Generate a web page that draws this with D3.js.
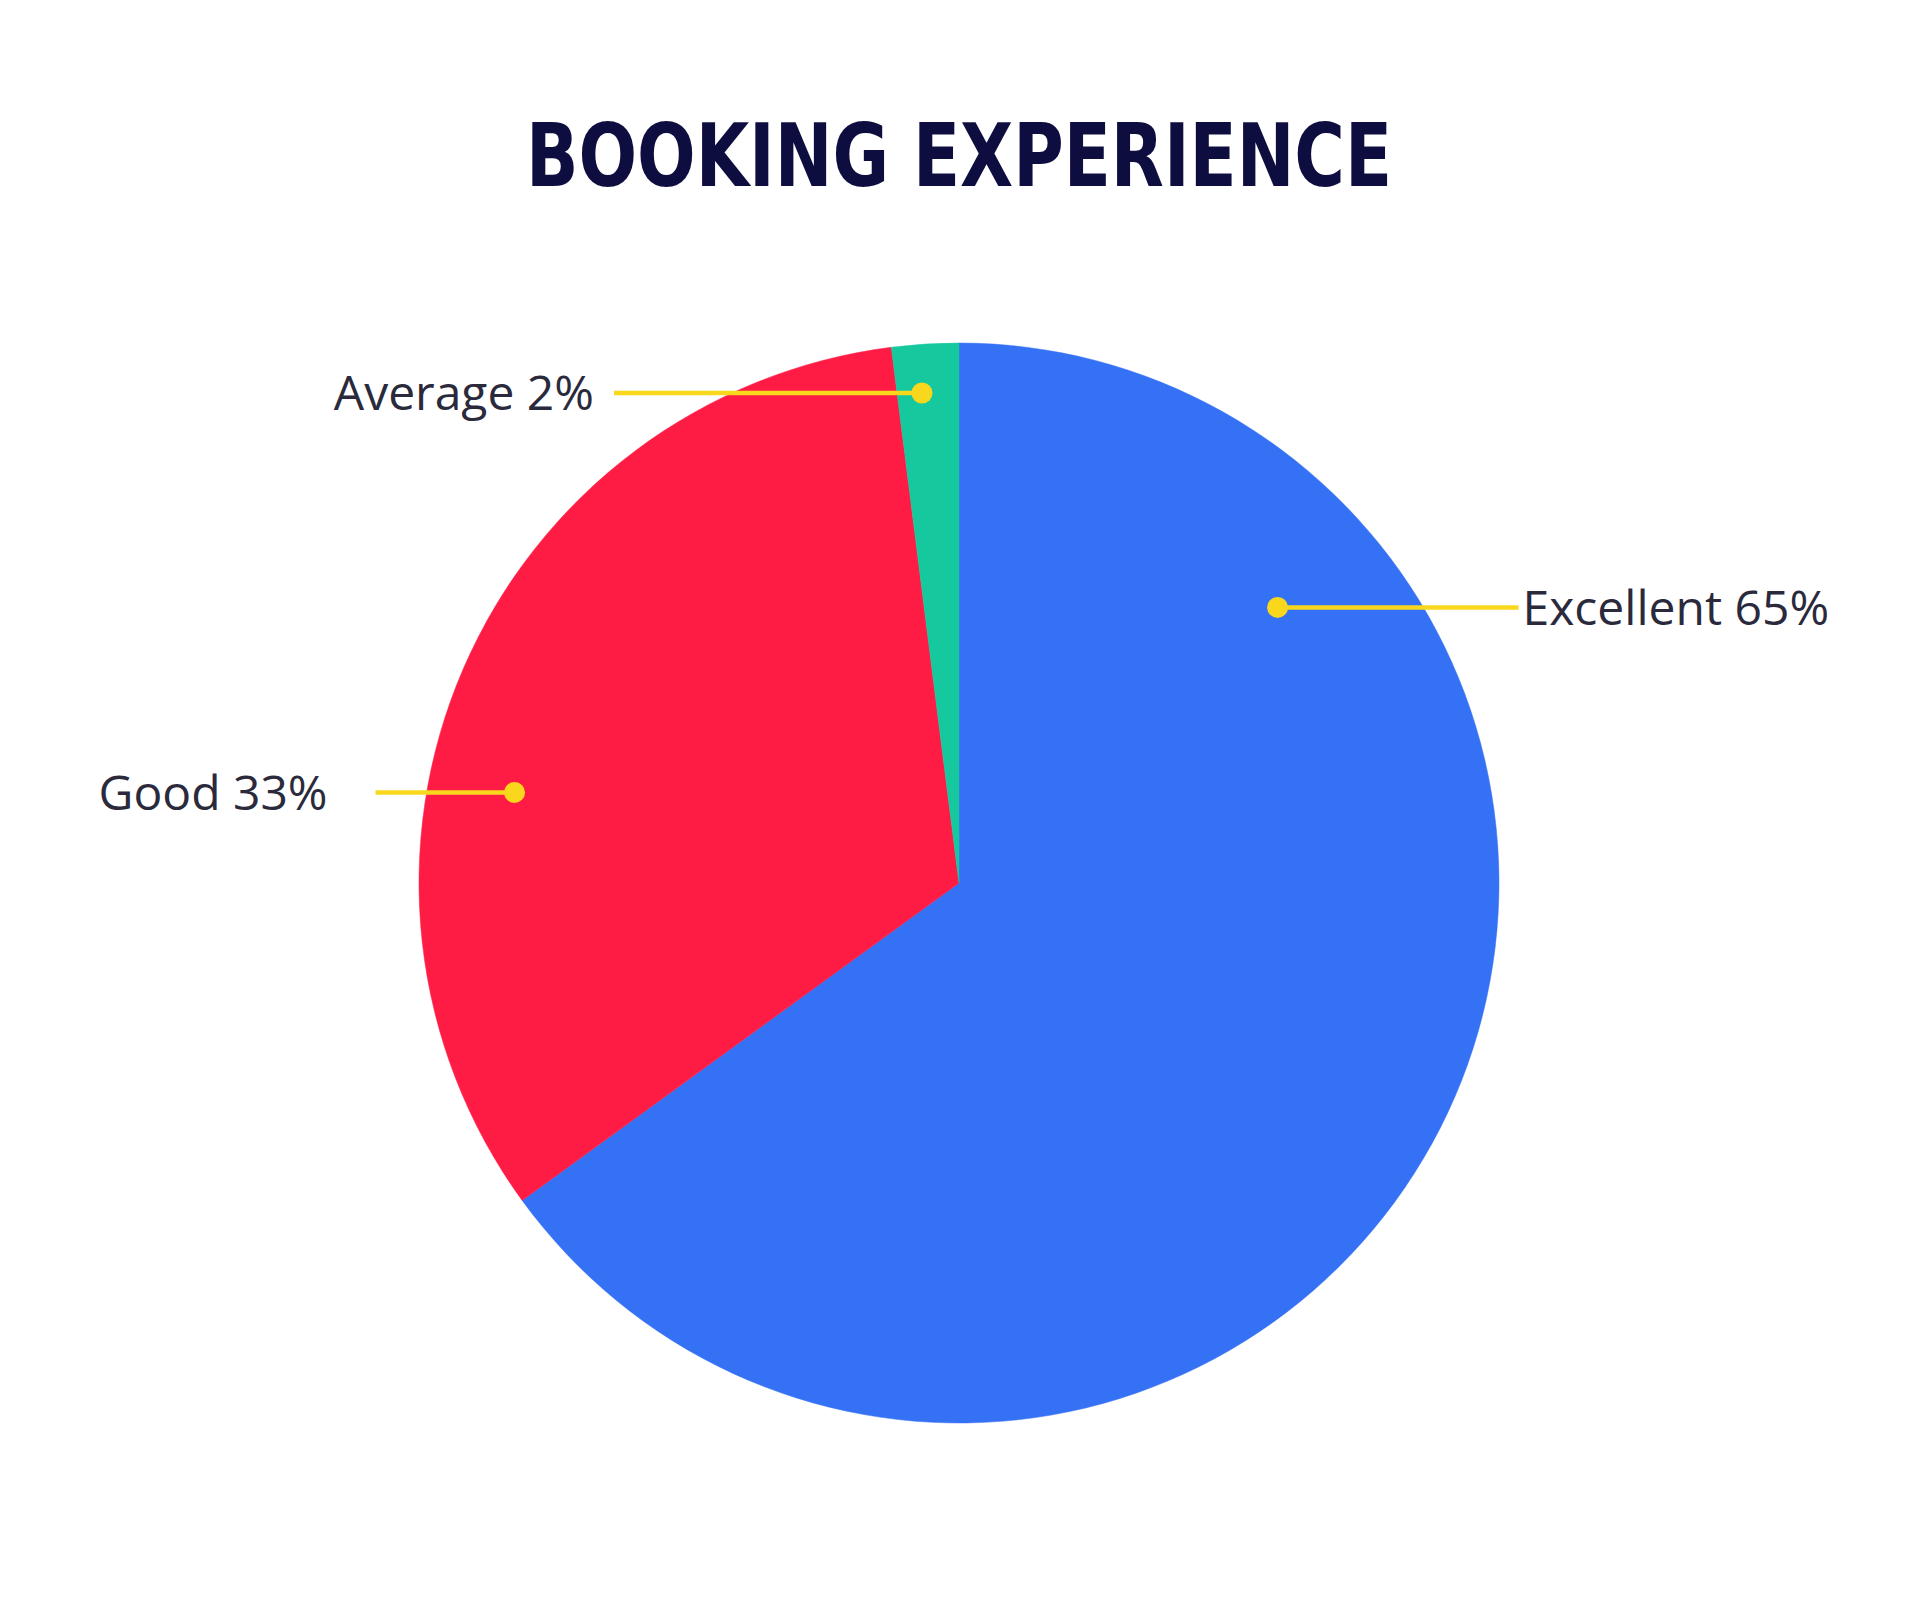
<!DOCTYPE html>
<html>
<head>
<meta charset="utf-8">
<script src="https://cdn.jsdelivr.net/npm/d3@7"></script>
<style>
  html, body { margin: 0; padding: 0; background: #ffffff; }
  svg { display: block; }
</style>
</head>
<body>
<svg id="chart" width="1920" height="1600"></svg>
<script>
// ---- data ----
const title = "BOOKING EXPERIENCE";
const categories = ["Excellent", "Good", "Average"];
const values = [65, 33, 2];
const colors = ["#3471f4", "#fe1c45", "#16c89e"];

// ---- layout (not data) ----
const W = 1920, H = 1600;
const cx = 959, cy = 883, R = 540;
// where the label dot sits inside each slice: fraction along slice angle, fraction of radius
const anchorFrac = [0.21, 0.40, 0.40];
const anchorRad = [0.78, 0.84, 0.91];
const leaderLen = [241, 139, 308];
const textGap = [4, 48, 20];
const side = [1, -1, -1];

const svg = d3.select("#chart");
svg.append("rect").attr("width", W).attr("height", H).attr("fill", "#ffffff");

svg.append("text")
  .attr("x", cx).attr("y", 186)
  .attr("text-anchor", "middle")
  .attr("font-family", "'DejaVu Sans Condensed', 'DejaVu Sans', sans-serif")
  .attr("font-weight", "bold")
  .attr("font-size", 88)
  .attr("fill", "#0e0d40")
  .attr("textLength", 866)
  .attr("lengthAdjust", "spacingAndGlyphs")
  .text(title);

const pie = d3.pie().sort(null).value(d => d.value).startAngle(0).endAngle(2 * Math.PI);
const data = categories.map((c, i) => ({ name: c, value: values[i], color: colors[i] }));
const arcs = pie(data);
const arc = d3.arc().innerRadius(0).outerRadius(R);

const g = svg.append("g").attr("transform", `translate(${cx},${cy})`);
g.selectAll("path.slice").data(arcs).join("path")
  .attr("class", "slice")
  .attr("d", arc)
  .attr("fill", d => d.data.color)
  .attr("stroke", d => d.data.color)
  .attr("stroke-width", 0.5);

const total = d3.sum(values);
const labels = g.selectAll("g.lbl").data(arcs).join("g").attr("class", "lbl");

labels.each(function(d, i) {
  const a = d.startAngle + (d.endAngle - d.startAngle) * anchorFrac[i];
  const r = R * anchorRad[i];
  const px = Math.sin(a) * r;
  const py = -Math.cos(a) * r;
  const ex = px + side[i] * leaderLen[i];
  const sel = d3.select(this);
  sel.append("line")
    .attr("x1", px).attr("y1", py).attr("x2", ex).attr("y2", py)
    .attr("stroke", "#f9d71c").attr("stroke-width", 4.5);
  sel.append("circle")
    .attr("cx", px).attr("cy", py).attr("r", 10.5)
    .attr("fill", "#f9d71c");
  sel.append("text")
    .attr("x", ex + side[i] * textGap[i]).attr("y", py)
    .attr("dy", "0.36em")
    .attr("text-anchor", side[i] > 0 ? "start" : "end")
    .attr("font-family", "'Open Sans', sans-serif")
    .attr("font-size", 48)
    .attr("fill", "#2a2a3c")
    .text(`${d.data.name} ${Math.round(d.data.value / total * 100)}%`);
});
</script>
</body>
</html>
